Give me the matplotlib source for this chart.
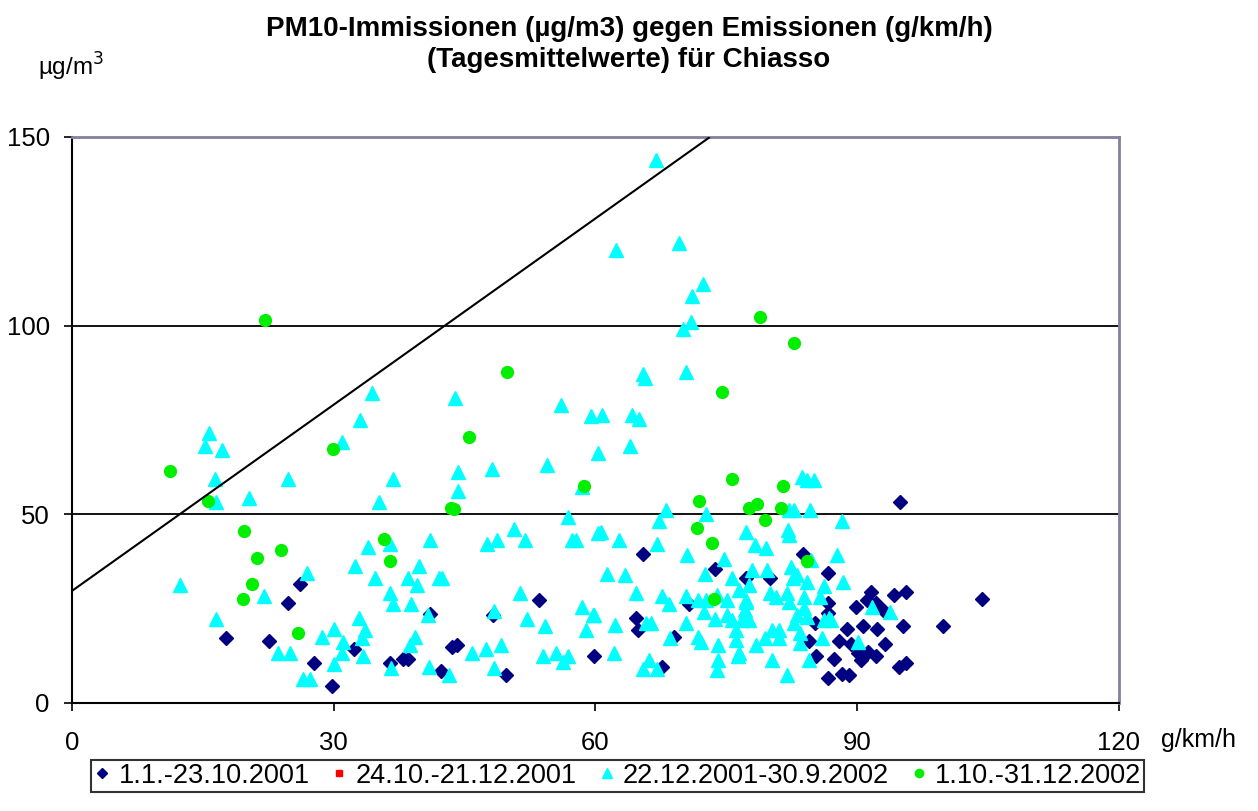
import numpy as np
import matplotlib.pyplot as plt

plt.rcParams['font.family'] = ['Liberation Sans', 'DejaVu Sans']

# 1.1.-23.10.2001 (dark blue diamonds)
s1_x = [26.1, 24.8, 17.6, 22.6, 27.7, 29.8, 32.3, 36.5, 37.9, 38.5, 41.0, 42.3, 43.5, 44.1,
        48.2, 49.7, 53.5, 59.8, 64.7, 64.9, 65.5, 67.6, 69.0, 70.7, 73.7, 77.2, 80.0, 83.8,
        86.6, 86.7, 86.7, 85.2, 84.5, 85.3, 86.6, 87.3, 87.9, 88.8, 88.3, 89.0, 89.3, 89.9,
        90.7, 91.6, 91.1, 92.1, 92.9, 92.3, 90.1, 90.4, 91.2, 92.1, 93.2, 94.9, 104.3, 99.8,
        95.6, 94.2, 95.2, 94.8, 95.6]
s1_y = [31.5, 26.5, 17.2, 16.4, 10.6, 4.5, 14.3, 10.6, 11.7, 11.7, 23.6, 8.5, 14.8, 15.4,
        23.3, 7.4, 27.3, 12.5, 22.5, 19.4, 39.5, 9.6, 17.5, 26.2, 35.5, 33.2, 33.1, 39.5,
        34.4, 26.5, 23.8, 21.3, 16.4, 12.5, 6.7, 11.7, 16.3, 19.5, 7.6, 7.4, 15.5, 25.5,
        20.4, 29.4, 27.2, 26.5, 24.6, 19.5, 13.2, 11.5, 13.4, 12.5, 15.6, 53.3, 27.6, 20.4,
        29.4, 28.6, 20.4, 9.5, 10.6]

# 24.10.-21.12.2001 (red, no points visible)
s2_x = []
s2_y = []

# 22.12.2001-30.9.2002 (cyan triangles)
s3_x = [15.7, 15.2, 17.2, 16.4, 16.5, 20.3, 24.8, 33.0, 31.0, 36.8, 35.2, 44.2, 44.2, 43.9,
        12.4, 16.5, 22.0, 26.9, 33.9, 32.4, 34.7, 36.5, 41.0, 39.8, 38.5, 39.5, 42.1, 36.4,
        36.8, 38.9, 40.8, 32.9, 33.6, 33.2, 30.0, 28.7, 31.1, 31.0, 33.3, 30.0, 23.6, 25.0,
        26.5, 27.3, 36.6, 39.3, 38.7, 40.9, 43.2, 45.8, 34.4,
        56.0, 59.5, 60.3, 48.1, 54.4, 58.4, 56.9, 50.7, 47.6, 48.7, 51.9, 57.3, 57.8, 60.3,
        42.4, 51.4, 48.4, 52.1, 54.2, 58.4, 59.7, 58.9, 47.5, 49.2, 48.4, 54.0, 55.5, 56.8,
        56.3,
        66.9, 62.4, 69.6, 72.3, 71.1, 71.0, 70.0, 70.4, 65.4, 65.7, 60.8, 64.2, 65.0,
        63.9, 68.1, 67.3, 72.7, 77.2, 60.6, 62.7, 67.0, 70.5, 74.7, 72.5, 61.3, 63.4, 75.7,
        64.6, 67.6, 68.4, 70.4, 71.8, 72.7, 73.9, 75.1, 72.4, 73.7, 75.1, 59.8, 62.2, 65.8,
        66.4, 70.4, 68.5, 71.7, 72.1, 74.0, 62.1, 66.1, 65.4, 67.0, 74.0, 73.9, 76.3, 76.1,
        76.1, 77.1, 77.3, 75.7,
        83.7, 84.3, 85.0, 82.8, 84.6, 82.2, 88.3, 82.1, 82.2, 78.3, 79.6, 87.7, 84.7, 77.9,
        79.7, 82.4, 83.1, 82.6, 84.3, 88.4, 86.2, 77.6, 76.5, 80.0, 80.7, 81.9, 82.2, 83.9,
        85.7, 77.3, 83.9, 83.1, 84.2, 76.8, 77.6, 82.8, 86.2, 86.8, 91.7, 93.7, 80.2, 81.0,
        83.4, 79.4, 81.0, 86.0, 83.4, 78.4, 90.1, 76.5, 80.2, 84.5, 81.9, 87.0]
s3_y = [71.6, 68.1, 67.1, 59.4, 53.3, 54.3, 59.4, 75.0, 69.2, 59.4, 53.3, 61.2, 56.2, 80.8,
        31.3, 22.3, 28.4, 34.4, 41.3, 36.3, 33.1, 42.1, 43.2, 36.3, 33.1, 31.3, 33.1, 29.2,
        26.2, 26.2, 23.3, 22.5, 19.3, 17.2, 19.6, 17.5, 16.2, 13.3, 12.5, 10.3, 13.3, 13.3,
        6.4, 6.4, 9.3, 17.5, 15.4, 9.5, 7.4, 13.3, 82.2,
        79.0, 76.1, 66.3, 62.0, 63.1, 57.3, 49.3, 46.1, 42.1, 43.2, 43.2, 43.2, 43.2, 45.0,
        33.1, 29.2, 24.4, 22.3, 20.4, 25.4, 23.3, 19.3, 14.3, 15.4, 9.3, 12.5, 13.3, 12.5,
        10.9,
        143.9, 120.1, 121.9, 111.1, 107.9, 101.0, 99.1, 87.7, 87.2, 86.1, 76.3, 76.3, 75.3,
        68.1, 51.2, 48.2, 50.1, 45.3, 45.3, 43.2, 42.1, 39.2, 38.2, 34.2, 34.2, 33.9, 33.1,
        29.2, 28.4, 26.2, 28.4, 27.3, 27.3, 28.6, 27.3, 24.1, 22.3, 23.3, 23.3, 20.7, 21.2,
        21.2, 21.2, 17.2, 17.5, 16.2, 15.4, 13.3, 11.4, 9.0, 9.0, 11.4, 8.7, 12.5, 16.7,
        19.3, 24.6, 27.3, 22.0,
        59.9, 59.1, 59.1, 51.2, 51.2, 51.2, 48.2, 45.9, 44.5, 41.9, 41.1, 39.2, 37.9, 35.3,
        35.3, 36.0, 33.9, 33.1, 32.1, 32.1, 31.0, 31.3, 29.9, 29.2, 28.1, 29.2, 26.8, 28.1,
        28.1, 26.8, 25.2, 23.3, 22.8, 22.0, 22.0, 21.2, 22.0, 22.5, 25.4, 24.1, 19.3, 19.3,
        18.6, 17.2, 17.2, 17.2, 15.9, 15.4, 16.2, 13.3, 11.4, 11.4, 7.4, 22.0]

# 1.10.-31.12.2002 (green circles)
s4_x = [11.2, 22.1, 15.6, 29.9, 19.7, 24.0, 21.2, 20.6, 19.6, 25.9, 35.8, 36.5, 43.4, 43.8,
        45.5, 49.9, 58.7, 71.6, 71.9, 73.4, 73.6, 74.5, 75.7, 77.6, 78.5, 78.8, 79.4, 81.3,
        81.5, 82.8, 84.2]
s4_y = [61.5, 101.5, 53.5, 67.3, 45.6, 40.6, 38.5, 31.5, 27.6, 18.6, 43.5, 37.6, 51.7, 51.5,
        70.5, 87.7, 57.5, 46.4, 53.5, 42.4, 27.6, 82.4, 59.4, 51.7, 52.7, 102.3, 48.5, 51.7,
        57.5, 95.4, 37.6]

labels = ["1.1.-23.10.2001", "24.10.-21.12.2001", "22.12.2001-30.9.2002", "1.10.-31.12.2002"]

# reference line
ref_x = [0, 73]
ref_y = [29.7, 149.8]

fig = plt.figure(figsize=(12.58, 8.11), dpi=100)
ax = fig.add_axes([0.0572, 0.1332, 0.8323, 0.6979])

ax.axhline(50, color='black', lw=1.3, zorder=1)
ax.axhline(100, color='black', lw=1.3, zorder=1)

ax.plot(s1_x, s1_y, 'D', color='#000080', ms=7, ls='none', label=labels[0], zorder=3)
ax.plot(s2_x, s2_y, 's', color='#ff0000', ms=6, ls='none', label=labels[1], zorder=3)
ax.plot(s3_x, s3_y, '^', color='#00ffff', ms=10, ls='none', label=labels[2], zorder=3)
ax.plot(s4_x, s4_y, 'o', color='#00ee00', ms=8.5, ls='none', label=labels[3], zorder=3)
ax.plot(ref_x, ref_y, color='black', lw=1.5, zorder=4)

ax.set_xlim(0, 120)
ax.set_ylim(0, 150)
ax.set_xticks([0, 30, 60, 90, 120])
ax.set_yticks([0, 50, 100, 150])
ax.tick_params(direction='out', length=6, width=1.2, labelsize=18.5)
ax.tick_params(axis='y', pad=10)
ax.tick_params(axis='x', pad=14)

for side in ['left', 'bottom']:
    ax.spines[side].set_linewidth(1.5)
    ax.spines[side].set_color('black')
for side in ['top', 'right']:
    ax.spines[side].set_linewidth(2)
    ax.spines[side].set_color('#8080a0')

fig.text(0.5, 0.945, "PM10-Immissionen (µg/m3) gegen Emissionen (g/km/h)\n(Tagesmittelwerte) für Chiasso",
         ha='center', va='center', fontsize=20, fontweight='bold', linespacing=1.25)
fig.text(0.030, 0.918, "µg/m$^3$", ha='left', va='center', fontsize=17.5)
fig.text(0.923, 0.087, "g/km/h", ha='left', va='center', fontsize=18)

leg = fig.legend(loc='center', bbox_to_anchor=(0.491, 0.0432), ncol=4, fontsize=19.5,
                 frameon=True, fancybox=False, edgecolor='black', handlelength=0.6,
                 handletextpad=0.3, columnspacing=0.8, borderpad=0.12, markerscale=0.7)
leg.get_frame().set_linewidth(1.5)

fig.savefig("out.png", dpi=100)
